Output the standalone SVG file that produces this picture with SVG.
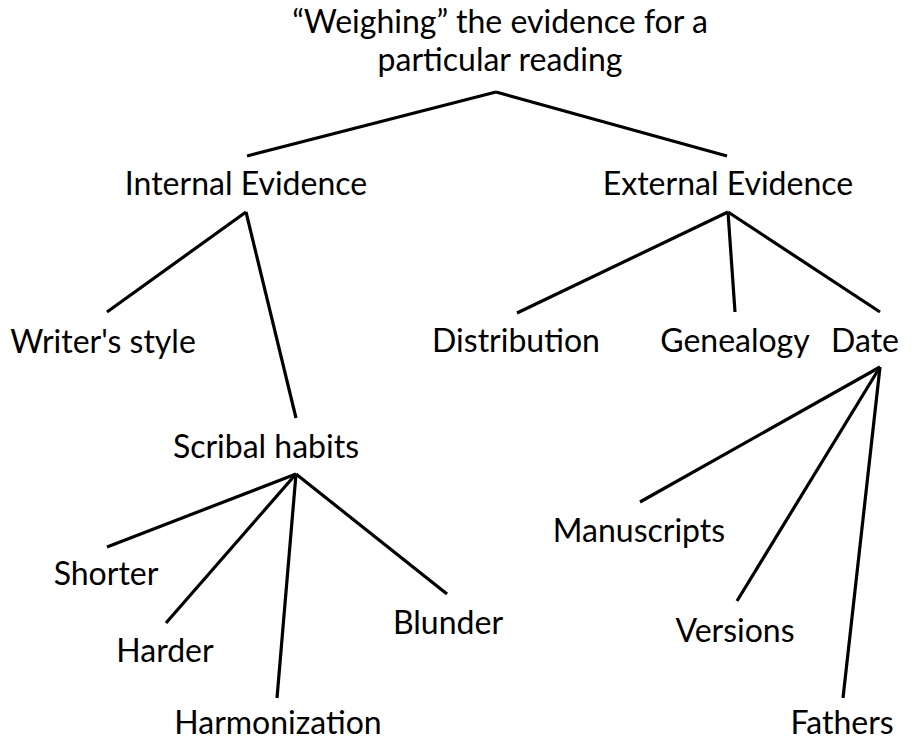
<svg xmlns="http://www.w3.org/2000/svg" width="923" height="742" viewBox="0 0 923 742">
<style>
text{font-family:Lato,"Open Sans","Liberation Sans",sans-serif;font-size:32px;fill:#000;text-anchor:middle}
.c line{stroke:#000;stroke-width:3.2;stroke-linecap:butt}
</style>
<rect width="923" height="742" fill="#fff"/>
<g class="c" id="connectors">
<line x1="496" y1="92" x2="247" y2="156"/>
<line x1="496" y1="92" x2="727" y2="156"/>
<line x1="246" y1="212" x2="107" y2="312"/>
<line x1="246" y1="212" x2="296" y2="418"/>
<line x1="728" y1="212" x2="517" y2="313"/>
<line x1="728" y1="212" x2="735" y2="312"/>
<line x1="728" y1="212" x2="880" y2="312"/>
<line x1="296" y1="474" x2="107" y2="547"/>
<line x1="296" y1="474" x2="166" y2="623"/>
<line x1="296" y1="474" x2="277" y2="698"/>
<line x1="296" y1="474" x2="447" y2="594"/>
<line x1="880" y1="367" x2="640" y2="502"/>
<line x1="880" y1="367" x2="737" y2="601"/>
<line x1="880" y1="367" x2="843" y2="698"/>
</g>
<g id="root"><text x="500" y="33">“Weighing” the evidence for a</text><text x="500" y="71">particular reading</text></g>
<g id="internal"><text x="246" y="195">Internal Evidence</text></g>
<g id="external"><text x="728" y="195">External Evidence</text></g>
<g id="writers-style"><text x="103" y="353">Writer's style</text></g>
<g id="distribution"><text x="516" y="352">Distribution</text></g>
<g id="genealogy"><text x="735" y="352">Genealogy</text></g>
<g id="date"><text x="865" y="352">Date</text></g>
<g id="scribal-habits"><text x="266" y="458">Scribal habits</text></g>
<g id="shorter"><text x="106" y="585">Shorter</text></g>
<g id="harder"><text x="165" y="662">Harder</text></g>
<g id="harmonization"><text x="278" y="734">Harmonization</text></g>
<g id="blunder"><text x="448" y="634">Blunder</text></g>
<g id="manuscripts"><text x="639" y="542">Manuscripts</text></g>
<g id="versions"><text x="735" y="642">Versions</text></g>
<g id="fathers"><text x="842" y="734">Fathers</text></g>
</svg>
